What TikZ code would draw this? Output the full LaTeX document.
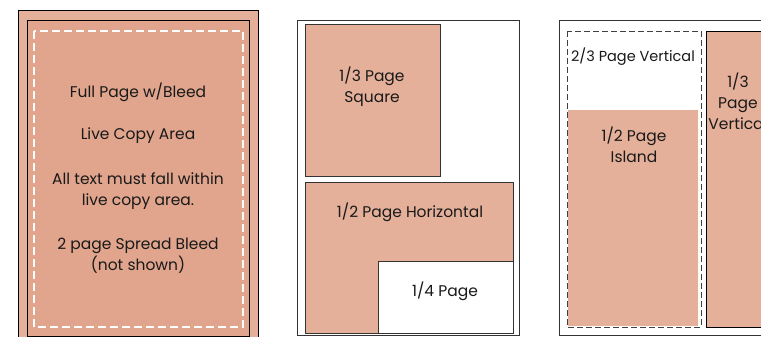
\documentclass[tikz,border=0pt]{standalone}
\usepackage{fontspec}
\setmainfont{Poppins}
\definecolor{salmon}{HTML}{E5B09A}
\definecolor{salmondk}{HTML}{E0A58C}
\definecolor{edge}{HTML}{333333}
\tikzset{
  lbl/.style={align=center, inner sep=0pt, font=\fontsize{15.5}{21}\selectfont, text=black!90},
  box/.style={fill=salmon, draw=edge, line width=0.9pt},
  pageframe/.style={draw=edge, line width=0.9pt},
}
\begin{document}
\begin{tikzpicture}[x=1pt,y=-1pt]
\useasboundingbox (0,0) rectangle (761,337);
\clip (0,0) rectangle (761,337);
\fill[white] (0,0) rectangle (761,337);
% Panel 1
\filldraw[fill=salmon, draw=black, line width=0.9pt] (18,10) rectangle (258,350);
\filldraw[fill=salmondk, draw=black, line width=0.9pt] (27,20) rectangle (249,336);
\draw[white, line width=1.4pt, dash pattern=on 8pt off 4pt] (34,31) rectangle (243,327);
\node[lbl] (full) at (138,92) {Full Page w/Bleed};
\node[lbl] (live) at (138,136) {Live Copy Area};
\node[lbl] (alltext) at (138,191) {All text must fall within\\live copy area.};
\node[lbl] (spread) at (138,256) {2 page Spread Bleed\\(not shown)};
% Panel 2
\draw[pageframe] (297,20) rectangle (519,335);
\draw[box] (305,24) rectangle (440,176);
\node[lbl] (sq) at (372,87) {1/3 Page\\Square};
\draw[box] (305,182) rectangle (513,333);
\node[lbl] (horiz) at (410,212) {1/2 Page Horizontal};
\draw[box, fill=white] (378,261) rectangle (513,333);
\node[lbl] (quarter) at (445,291) {1/4 Page};
% Panel 3
\draw[pageframe] (559,20) rectangle (790,335);
\draw[draw=black!75, line width=0.8pt, dash pattern=on 6pt off 3pt] (567,31) rectangle (701,327);
\fill[salmon] (568,110) rectangle (698,326);
\node[lbl, font=\fontsize{14.5}{21}\selectfont] (twothirds) at (633,57) {2/3 Page Vertical};
\node[lbl] (island) at (634,145) {1/2 Page\\Island};
\draw[box, draw=black] (706,31) rectangle (770,327);
\node[lbl] (vert) at (738,101) {1/3\\Page\\Vertical};
\end{tikzpicture}
\end{document}
